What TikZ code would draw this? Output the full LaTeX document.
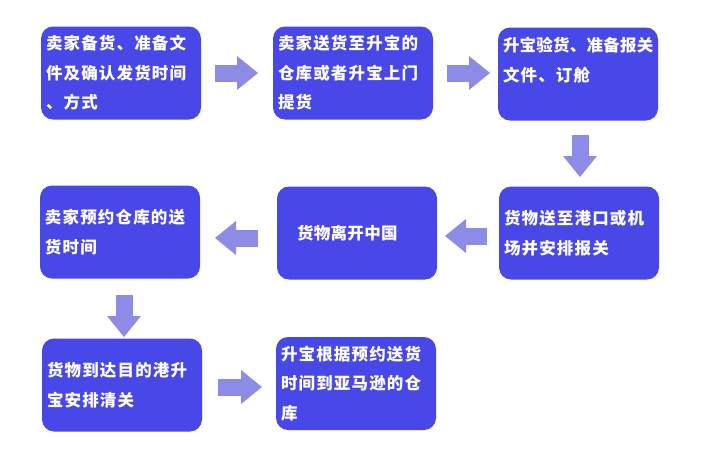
\documentclass[tikz,border=0pt]{standalone}
\usepackage{fontspec}
\newfontfamily\cjk{Noto Sans CJK SC}[LetterSpace=7]
\usetikzlibrary{arrows.meta}
\definecolor{boxblue}{RGB}{72,72,232}
\definecolor{arrowc}{RGB}{140,140,230}
\newcommand{\tight}[1]{{\addfontfeature{LetterSpace=1.5}#1}}
\newcommand{\semitight}[1]{{\addfontfeature{LetterSpace=2}#1}}
\begin{document}
\begin{tikzpicture}[x=1pt,y=-1pt,
  box/.style={fill=boxblue, rounded corners=12pt, minimum width=160pt, minimum height=93pt,
    text width=150pt, inner xsep=5pt, align=left, text=white,
    font=\cjk\bfseries\fontsize{16.5pt}{29.5pt}\selectfont},
  blockarrow/.style={draw=arrowc, line width=17pt,
    -{Triangle[width=34pt,length=21pt,line width=0pt]}}]
\useasboundingbox[fill=white] (0,0) rectangle (702,471);
% boxes
\node[box] (b1) at (121,73) {卖家备货、准备文\\件及确认发货时间\\、方式};
\node[box] (b2) at (353,73) {卖家送货至升宝的\\仓库或者升宝上门\\提货};
\node[box] (b3) at (578,74) {\tight{升宝验货、准备报关}\\文件、订舱\\\mbox{}};
\node[box] (b4) at (579,233) {货物送至港口或机\\场并安排报关};
\node[box] (b5) at (357,233) {\hspace*{15pt}\semitight{货物离开中国}};
\node[box] (b6) at (120,232) {卖家预约仓库的送\\货时间};
\node[box] (b7) at (122,385) {货物到达目的港升\\宝安排清关};
\node[box] (b8) at (356,383.5) {升宝根据预约送货\\时间到亚马逊的仓\\库};
% arrow end points
\coordinate (a1s) at (215,73);  \coordinate (a1e) at (258,73);
\coordinate (a2s) at (447,73);  \coordinate (a2e) at (490,73);
\coordinate (a3s) at (580,135); \coordinate (a3e) at (580,177);
\coordinate (a4s) at (487,236); \coordinate (a4e) at (445,236);
\coordinate (a5s) at (258,238); \coordinate (a5e) at (215,238);
\coordinate (a6s) at (124,295); \coordinate (a6e) at (124,337);
\coordinate (a7s) at (218,387); \coordinate (a7e) at (262,387);
\draw[blockarrow] (a1s) -- (a1e);
\draw[blockarrow] (a2s) -- (a2e);
\draw[blockarrow] (a3s) -- (a3e);
\draw[blockarrow] (a4s) -- (a4e);
\draw[blockarrow] (a5s) -- (a5e);
\draw[blockarrow] (a6s) -- (a6e);
\draw[blockarrow] (a7s) -- (a7e);
\end{tikzpicture}
\end{document}
